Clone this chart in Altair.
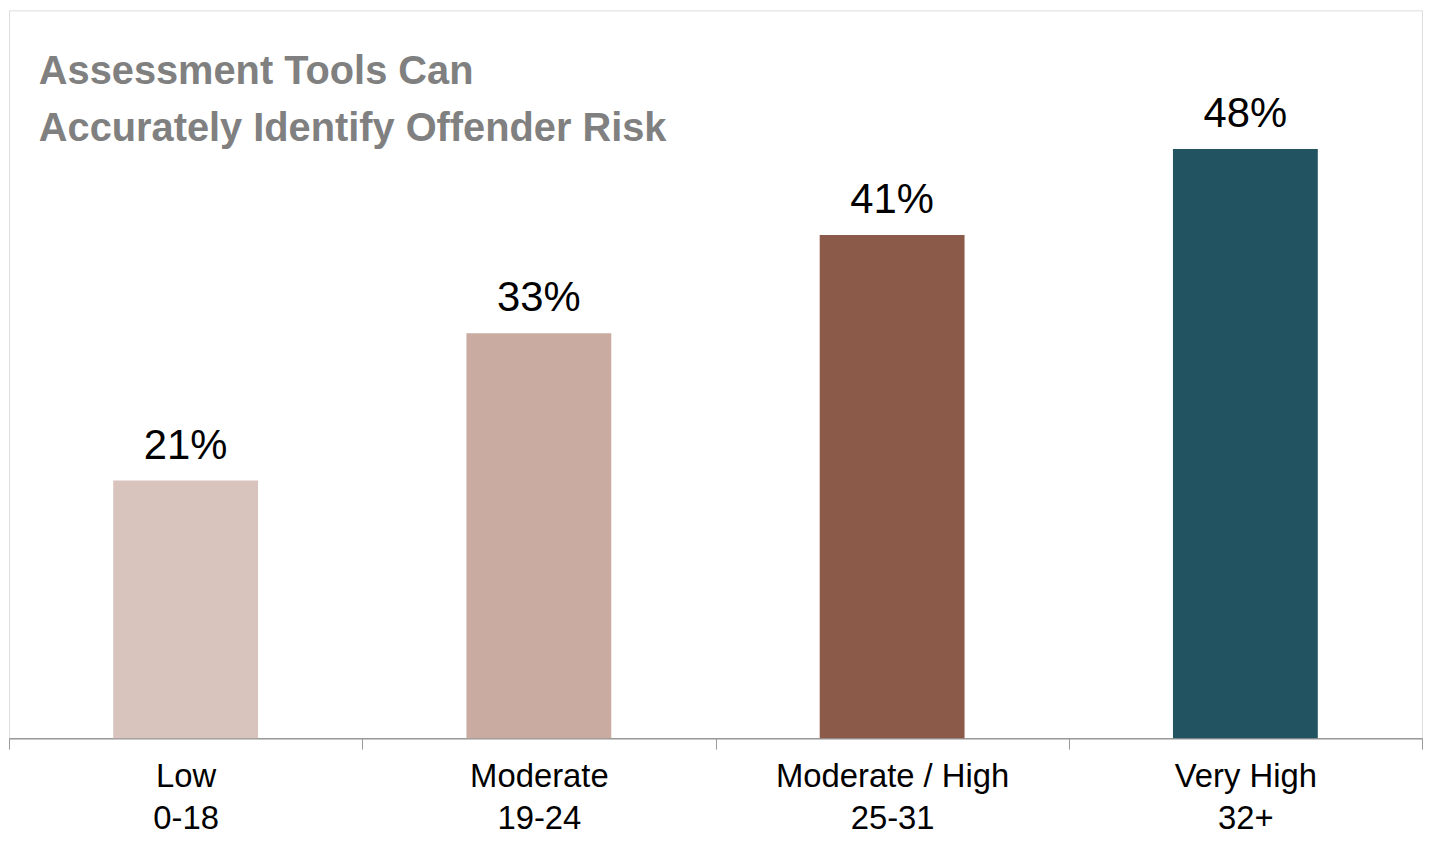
import altair as alt
import pandas as pd

risk_levels = ["Low", "Moderate", "Moderate / High", "Very High"]
score_ranges = ["0-18", "19-24", "25-31", "32+"]
rates = [21, 33, 41, 48]
bar_colors = ["#D8C4BD", "#C9ABA1", "#8C5A48", "#215460"]
title_lines = ["Assessment Tools Can", "Accurately Identify Offender Risk"]

FONT = "Liberation Sans Narrow, Liberation Sans, Arial, sans-serif"

df = pd.DataFrame({
    "cat": [f"{a}\n{b}" for a, b in zip(risk_levels, score_ranges)],
    "rate": rates,
    "label": [f"{r}%" for r in rates],
    "color": bar_colors,
})
title_df = pd.DataFrame({"t": ["\n".join(title_lines)]})

x_enc = alt.X(
    "cat:N",
    sort=None,
    scale=alt.Scale(paddingInner=0, paddingOuter=0),
    axis=alt.Axis(
        title=None,
        labelAngle=0,
        labelExpr="isValid(datum.value) ? split(datum.value, '\\n') : ''",
        labelFont=FONT,
        labelFontSize=33,
        labelColor="#000000",
        labelLineHeight=42,
        labelPadding=12,
        labelLimit=0,
        tickBand="extent",
        tickSize=11,
        tickColor="#999999",
        domainColor="#999999",
        domainWidth=1.5,
    ),
)
y_enc = alt.Y("rate:Q", scale=alt.Scale(domain=[0, 59.3], nice=False), axis=None)

bars = alt.Chart(df).mark_bar(width=alt.RelativeBandSize(0.41)).encode(
    x=x_enc,
    y=y_enc,
    color=alt.Color("color:N", scale=None),
)

labels = alt.Chart(df).mark_text(
    font=FONT, fontSize=42, color="#000000", baseline="alphabetic", dy=-22
).encode(x=x_enc, y=y_enc, text="label:N")

title = alt.Chart(title_df).mark_text(
    font=FONT, fontSize=40, fontWeight="bold", color="#808080",
    align="left", baseline="alphabetic", lineBreak="\n", lineHeight=57,
).encode(x=alt.value(30), y=alt.value(74), text="t:N")

chart = alt.layer(bars, labels, title).properties(
    width=1421, height=732, padding={"left": 0, "top": 0, "right": 0, "bottom": 0}
).configure_view(stroke="#999999", strokeWidth=1.5).configure(background="white")

chart.save("out.html", embed_options={"renderer": "svg", "actions": False})
